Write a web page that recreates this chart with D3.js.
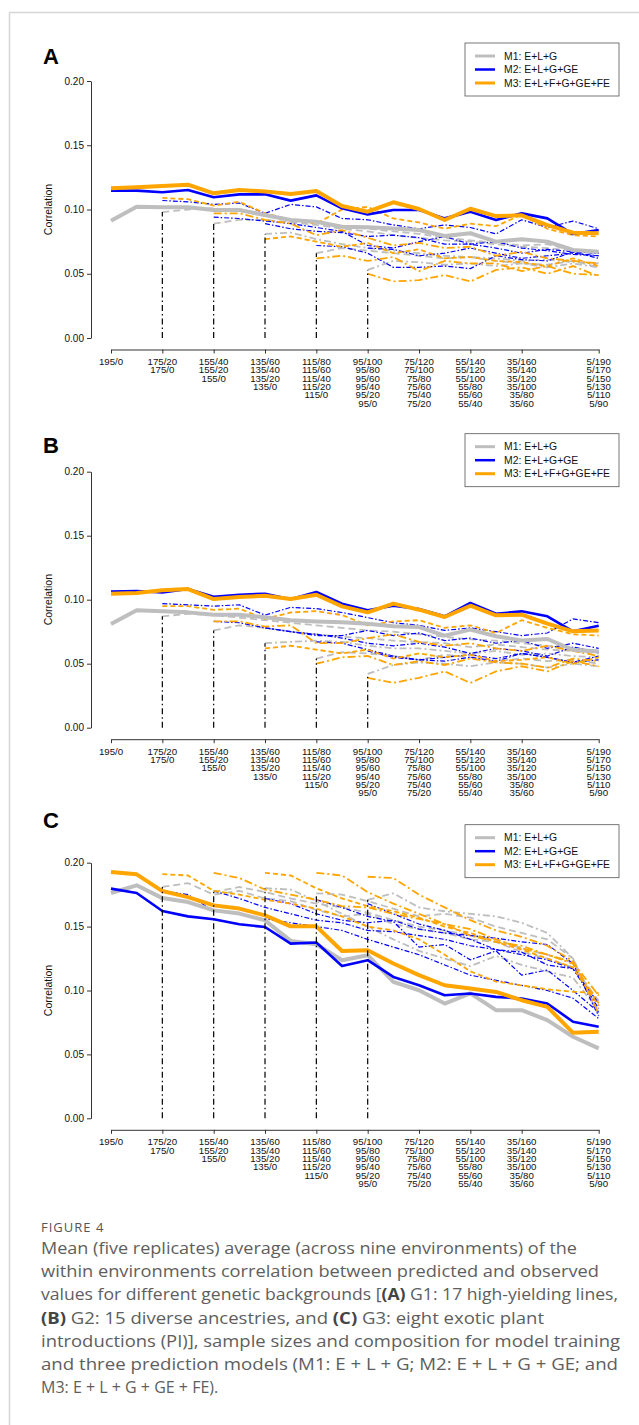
<!DOCTYPE html>
<html>
<head>
<meta charset="utf-8">
<script src="https://cdn.jsdelivr.net/npm/d3@7"></script>
<style>
  body { margin: 0; background: #fff; }
  svg text { font-family: "Liberation Sans", Arial, sans-serif; }
</style>
</head>
<body>
<svg id="fig" width="639" height="1425"></svg>
<script>
// training set sizes (target lines) along the x axis
const trainSizes = [195, 185, 175, 165, 155, 145, 135, 125, 115, 105, 95, 85, 75, 65, 55, 45, 35, 25, 15, 5];
const xTicks = [195, 175, 155, 135, 115, 95, 75, 55, 35, 5];
const totals = [195, 175, 155, 135, 115, 95];
const thinStarts = [175, 155, 135, 115, 95];
const yTicks = [0, 0.05, 0.1, 0.15, 0.2];
const modelNames = ["M1: E+L+G", "M2: E+L+G+GE", "M3: E+L+F+G+GE+FE"];
const panelNames = ["A", "B", "C"];

// panel A (G1)
const aM1 = [0.0913, 0.1022, 0.1017, 0.1017, 0.0996, 0.0996, 0.0957, 0.0918, 0.0905, 0.0866, 0.0861, 0.0853, 0.0840, 0.0794, 0.0815, 0.0750, 0.0768, 0.0750, 0.0685, 0.0672];
const aM2 = [0.1147, 0.1147, 0.1134, 0.1152, 0.1095, 0.1118, 0.1118, 0.1069, 0.1110, 0.1009, 0.0962, 0.0996, 0.0996, 0.0931, 0.0983, 0.0918, 0.0970, 0.0931, 0.0809, 0.0840];
const aM3 = [0.1165, 0.1173, 0.1183, 0.1193, 0.1126, 0.1152, 0.1141, 0.1120, 0.1144, 0.1027, 0.0983, 0.1056, 0.1004, 0.0918, 0.1006, 0.0949, 0.0955, 0.0879, 0.0820, 0.0815];
const aThinM1 = [
  [0.098, 0.100, 0.101, 0.099, 0.095, 0.092, 0.090, 0.087, 0.085, 0.083, 0.081, 0.078, 0.076, 0.074, 0.072, 0.073, 0.068, 0.066],
  [0.089, 0.092, 0.092, 0.090, 0.088, 0.085, 0.083, 0.080, 0.078, 0.076, 0.075, 0.073, 0.071, 0.070, 0.068, 0.066],
  [0.081, 0.082, 0.077, 0.073, 0.070, 0.068, 0.066, 0.064, 0.063, 0.062, 0.060, 0.061, 0.059, 0.058],
  [0.066, 0.070, 0.068, 0.066, 0.064, 0.062, 0.063, 0.060, 0.058, 0.057, 0.060, 0.055],
  [0.053, 0.060, 0.059, 0.057, 0.058, 0.056, 0.058, 0.055, 0.058, 0.055]
];
const aThinM2 = [
  [0.107, 0.106, 0.104, 0.105, 0.097, 0.104, 0.102, 0.093, 0.092, 0.088, 0.085, 0.088, 0.086, 0.081, 0.092, 0.086, 0.091, 0.085],
  [0.094, 0.093, 0.091, 0.089, 0.086, 0.083, 0.072, 0.070, 0.075, 0.079, 0.073, 0.075, 0.070, 0.068, 0.065, 0.064],
  [0.089, 0.085, 0.083, 0.082, 0.079, 0.080, 0.078, 0.073, 0.073, 0.070, 0.066, 0.069, 0.067, 0.066],
  [0.072, 0.071, 0.066, 0.055, 0.055, 0.056, 0.054, 0.064, 0.061, 0.060, 0.067, 0.062],
  [0.070, 0.069, 0.064, 0.066, 0.070, 0.066, 0.062, 0.064, 0.066, 0.064]
];
const aThinM3 = [
  [0.109, 0.108, 0.103, 0.106, 0.097, 0.092, 0.089, 0.100, 0.102, 0.093, 0.090, 0.085, 0.089, 0.087, 0.096, 0.085, 0.080, 0.079],
  [0.097, 0.097, 0.092, 0.089, 0.080, 0.084, 0.078, 0.072, 0.074, 0.070, 0.071, 0.064, 0.067, 0.062, 0.060, 0.058],
  [0.077, 0.079, 0.075, 0.071, 0.074, 0.066, 0.069, 0.062, 0.063, 0.060, 0.059, 0.056, 0.062, 0.056],
  [0.062, 0.064, 0.060, 0.063, 0.052, 0.060, 0.058, 0.058, 0.052, 0.056, 0.050, 0.049],
  [0.050, 0.044, 0.045, 0.049, 0.044, 0.053, 0.055, 0.050, 0.056, 0.048]
];

// panel B (G2)
const bM1 = [0.0810, 0.0917, 0.0909, 0.0901, 0.0883, 0.0883, 0.0862, 0.0839, 0.0830, 0.0823, 0.0813, 0.0792, 0.0786, 0.0719, 0.0766, 0.0714, 0.0682, 0.0693, 0.0609, 0.0596];
const bM2 = [0.1063, 0.1068, 0.1057, 0.1083, 0.1023, 0.1039, 0.1047, 0.1003, 0.1060, 0.0969, 0.0917, 0.0953, 0.0927, 0.0870, 0.0974, 0.0890, 0.0909, 0.0870, 0.0753, 0.0797];
const bM3 = [0.1047, 0.1052, 0.1073, 0.1083, 0.1005, 0.1021, 0.1031, 0.1005, 0.1039, 0.0948, 0.0901, 0.0969, 0.0922, 0.0865, 0.0953, 0.0878, 0.0883, 0.0813, 0.0753, 0.0760];
const bThinM1 = [
  [0.087, 0.089, 0.088, 0.086, 0.084, 0.082, 0.080, 0.078, 0.076, 0.075, 0.073, 0.071, 0.069, 0.068, 0.066, 0.064, 0.062, 0.060],
  [0.076, 0.080, 0.078, 0.075, 0.073, 0.071, 0.070, 0.068, 0.067, 0.066, 0.063, 0.065, 0.063, 0.061, 0.060, 0.058],
  [0.066, 0.067, 0.068, 0.067, 0.064, 0.062, 0.062, 0.060, 0.058, 0.060, 0.057, 0.058, 0.056, 0.055],
  [0.054, 0.059, 0.058, 0.056, 0.053, 0.057, 0.055, 0.052, 0.054, 0.052, 0.053, 0.050],
  [0.042, 0.049, 0.051, 0.050, 0.048, 0.051, 0.050, 0.047, 0.050, 0.048]
];
const bThinM2 = [
  [0.097, 0.096, 0.095, 0.096, 0.088, 0.094, 0.093, 0.090, 0.086, 0.082, 0.080, 0.076, 0.078, 0.075, 0.072, 0.074, 0.085, 0.082],
  [0.083, 0.082, 0.078, 0.075, 0.072, 0.072, 0.076, 0.072, 0.074, 0.068, 0.070, 0.066, 0.068, 0.062, 0.066, 0.062],
  [0.078, 0.075, 0.073, 0.070, 0.066, 0.064, 0.066, 0.063, 0.058, 0.062, 0.060, 0.056, 0.063, 0.059],
  [0.067, 0.066, 0.061, 0.056, 0.053, 0.055, 0.057, 0.054, 0.058, 0.055, 0.051, 0.056],
  [0.060, 0.055, 0.053, 0.052, 0.055, 0.052, 0.058, 0.055, 0.051, 0.053]
];
const bThinM3 = [
  [0.095, 0.095, 0.092, 0.093, 0.085, 0.090, 0.091, 0.088, 0.080, 0.083, 0.084, 0.078, 0.080, 0.074, 0.084, 0.078, 0.073, 0.072],
  [0.083, 0.083, 0.079, 0.080, 0.066, 0.066, 0.070, 0.073, 0.067, 0.064, 0.066, 0.062, 0.060, 0.064, 0.060, 0.056],
  [0.062, 0.064, 0.061, 0.058, 0.061, 0.054, 0.058, 0.055, 0.057, 0.052, 0.053, 0.055, 0.050, 0.055],
  [0.050, 0.055, 0.056, 0.049, 0.052, 0.049, 0.054, 0.051, 0.050, 0.047, 0.054, 0.052],
  [0.039, 0.035, 0.039, 0.044, 0.035, 0.044, 0.048, 0.044, 0.052, 0.048]
];

// panel C (G3)
const cM1 = [0.1763, 0.1823, 0.1723, 0.1692, 0.1627, 0.1602, 0.1549, 0.1388, 0.1362, 0.1237, 0.1276, 0.1067, 0.1002, 0.0898, 0.0977, 0.0846, 0.0846, 0.0768, 0.0638, 0.0547];
const cM2 = [0.1797, 0.1763, 0.1622, 0.1580, 0.1557, 0.1518, 0.1497, 0.1367, 0.1375, 0.1192, 0.1237, 0.1106, 0.1041, 0.0963, 0.0977, 0.0950, 0.0938, 0.0898, 0.0755, 0.0716];
const cM3 = [0.1927, 0.1909, 0.1778, 0.1731, 0.1666, 0.1641, 0.1588, 0.1502, 0.1502, 0.1309, 0.1315, 0.1211, 0.1120, 0.1041, 0.1016, 0.0989, 0.0924, 0.0872, 0.0669, 0.0677];
const cThinM1 = [
  [0.181, 0.184, 0.175, 0.178, 0.172, 0.170, 0.163, 0.158, 0.160, 0.152, 0.148, 0.145, 0.140, 0.138, 0.130, 0.125, 0.118, 0.092],
  [0.177, 0.181, 0.177, 0.172, 0.168, 0.165, 0.161, 0.155, 0.150, 0.147, 0.143, 0.140, 0.133, 0.128, 0.122, 0.088],
  [0.180, 0.179, 0.170, 0.160, 0.150, 0.140, 0.131, 0.125, 0.119, 0.127, 0.120, 0.115, 0.110, 0.084],
  [0.176, 0.175, 0.170, 0.164, 0.158, 0.160, 0.157, 0.150, 0.145, 0.140, 0.125, 0.082],
  [0.171, 0.176, 0.165, 0.162, 0.160, 0.158, 0.153, 0.145, 0.125, 0.080]
];
const cThinM2 = [
  [0.178, 0.175, 0.162, 0.160, 0.156, 0.153, 0.150, 0.147, 0.140, 0.134, 0.128, 0.120, 0.112, 0.108, 0.104, 0.100, 0.094, 0.078],
  [0.178, 0.172, 0.165, 0.160, 0.155, 0.153, 0.147, 0.146, 0.143, 0.140, 0.135, 0.132, 0.130, 0.120, 0.117, 0.086],
  [0.172, 0.168, 0.160, 0.155, 0.153, 0.155, 0.148, 0.145, 0.143, 0.141, 0.138, 0.136, 0.121, 0.080],
  [0.171, 0.165, 0.158, 0.154, 0.134, 0.136, 0.124, 0.131, 0.112, 0.116, 0.100, 0.083],
  [0.168, 0.160, 0.152, 0.147, 0.140, 0.132, 0.128, 0.124, 0.117, 0.090]
];
const cThinM3 = [
  [0.191, 0.190, 0.178, 0.175, 0.171, 0.168, 0.164, 0.158, 0.150, 0.147, 0.140, 0.128, 0.115, 0.107, 0.104, 0.101, 0.099, 0.098],
  [0.192, 0.188, 0.179, 0.175, 0.171, 0.166, 0.165, 0.160, 0.156, 0.152, 0.148, 0.140, 0.133, 0.128, 0.121, 0.090],
  [0.192, 0.190, 0.180, 0.172, 0.166, 0.162, 0.157, 0.150, 0.145, 0.138, 0.132, 0.125, 0.118, 0.088],
  [0.192, 0.190, 0.177, 0.168, 0.160, 0.152, 0.143, 0.138, 0.135, 0.128, 0.122, 0.096],
  [0.189, 0.188, 0.175, 0.165, 0.155, 0.147, 0.142, 0.135, 0.123, 0.082]
];

const caption = [
  [["Mean (five replicates) average (across nine environments) of the", 0]],
  [["within environments correlation between predicted and observed", 0]],
  [["values for different genetic backgrounds [", 0], ["(A)", 1], [" G1: 17 high-yielding lines,", 0]],
  [["(B)", 1], [" G2: 15 diverse ancestries, and ", 0], ["(C)", 1], [" G3: eight exotic plant", 0]],
  [["introductions (PI)], sample sizes and composition for model training", 0]],
  [["and three prediction models (M1: E + L + G; M2: E + L + G + GE; and", 0]],
  [["M3: E + L + G + GE + FE).", 0]]
];

// ---- styles / layout ----
const colors = ["#BEBEBE", "#0000FF", "#FFA500"];
const thickWidth = [4, 2.6, 4];
const thinWidth = [1.8, 1.2, 1.8];
const thinDash = [
  ["7,4", "7,4", "7,3,2,3", "7,4", "7,3,2,3"],
  ["5,2,1.5,2", "5,2,1.5,2", "5,2,1.5,2", "5,2,1.5,2", "5,2,1.5,2"],
  ["5,3", "8,3,2,3", "5,3", "8,3,2,3", "8,3,2,3"]
];
const panelY20 = [81, 471.7, 862.7];
const panelY0 = [338, 727.7, 1118.3];
const letterY = [64, 453, 828];

const panels = [
  { main: [aM1, aM2, aM3], thin: [aThinM1, aThinM2, aThinM3] },
  { main: [bM1, bM2, bM3], thin: [bThinM1, bThinM2, bThinM3] },
  { main: [cM1, cM2, cM3], thin: [cThinM1, cThinM2, cThinM3] }
];

const svg = d3.select("#fig");

// faint figure frame
svg.append("path")
  .attr("d", "M9.5,1425 L9.5,12.5 L639,12.5")
  .attr("fill", "none")
  .attr("stroke", "#d6d6d6")
  .attr("stroke-width", 1.5);

const x = d3.scaleLinear().domain([195, 5]).range([111, 598.7]);

panels.forEach((p, pi) => {
  const y = d3.scaleLinear().domain([0, 0.2]).range([panelY0[pi], panelY20[pi]]);
  const g = svg.append("g");
  const line = d3.line().x((d) => x(d.n)).y((d) => y(d.v));

  // panel letter
  g.append("text")
    .attr("x", 43)
    .attr("y", letterY[pi])
    .attr("font-size", 22)
    .attr("font-weight", "bold")
    .text(panelNames[pi]);

  // y axis
  const yAxis = g.append("g")
    .attr("transform", "translate(91,0)")
    .call(d3.axisLeft(y).tickValues(yTicks).tickFormat(d3.format(".2f")).tickSize(4).tickSizeOuter(0).tickPadding(3));
  yAxis.selectAll("path, line").attr("stroke", "#333");
  yAxis.selectAll("text")
    .attr("font-size", 10)
    .attr("fill", "#111")
    .style("font-family", "'Liberation Sans', Arial, sans-serif");

  g.append("text")
    .attr("transform", `translate(51.5,${(panelY0[pi] + panelY20[pi]) / 2}) rotate(-90)`)
    .attr("text-anchor", "middle")
    .attr("font-size", 10.5)
    .attr("fill", "#111")
    .text("Correlation");

  // x axis with stacked composition labels
  const axisY = panelY0[pi] + 11.5;
  const xAxis = g.append("g")
    .attr("transform", `translate(0,${axisY})`)
    .call(d3.axisBottom(x).tickValues(xTicks).tickFormat("").tickSize(4).tickSizeOuter(0));
  xAxis.selectAll("path, line").attr("stroke", "#333");
  xTicks.forEach((v) => {
    const labels = totals.filter((t) => t >= v).map((t) => `${v}/${t - v}`);
    const t = g.append("text")
      .attr("text-anchor", "middle")
      .attr("font-size", 9.7)
      .attr("fill", "#111");
    labels.forEach((s, i) => {
      t.append("tspan")
        .attr("x", x(v))
        .attr("y", axisY + 15.5 + i * 8.35)
        .text(s);
    });
  });

  // thin series: smaller total training sizes
  p.thin.forEach((series, m) => {
    series.forEach((vals, k) => {
      const pts = vals.map((v, i) => ({ n: thinStarts[k] - 10 * i, v }));
      g.append("path")
        .datum(pts)
        .attr("d", line)
        .attr("fill", "none")
        .attr("stroke", colors[m])
        .attr("stroke-width", thinWidth[m])
        .attr("stroke-dasharray", thinDash[m][k]);
    });
  });

  // thick series: full training set (195)
  p.main.forEach((vals, m) => {
    const pts = vals.map((v, i) => ({ n: trainSizes[i], v }));
    g.append("path")
      .datum(pts)
      .attr("d", line)
      .attr("fill", "none")
      .attr("stroke", colors[m])
      .attr("stroke-width", thickWidth[m])
      .attr("stroke-linejoin", "round");
  });

  // vertical markers from 0 up to M1 start of each subset
  thinStarts.forEach((s, k) => {
    g.append("line")
      .attr("x1", x(s))
      .attr("x2", x(s))
      .attr("y1", y(0))
      .attr("y2", y(p.thin[0][k][0]))
      .attr("stroke", "#000")
      .attr("stroke-width", 1.2)
      .attr("stroke-dasharray", "6,3,1.5,3");
  });

  // legend
  const lt = panelY20[pi] - 38;
  const leg = g.append("g").attr("transform", `translate(465,${lt})`);
  leg.append("rect")
    .attr("width", 154)
    .attr("height", 53)
    .attr("fill", "#fff")
    .attr("stroke", "#555")
    .attr("stroke-width", 0.8);
  modelNames.forEach((name, m) => {
    const ry = 13 + m * 13.5;
    leg.append("line")
      .attr("x1", 10).attr("x2", 30)
      .attr("y1", ry).attr("y2", ry)
      .attr("stroke", colors[m])
      .attr("stroke-width", m === 1 ? 2.5 : 3);
    leg.append("text")
      .attr("x", 39)
      .attr("y", ry + 3.6)
      .attr("font-size", 10.4)
      .attr("fill", "#111")
      .text(name);
  });
});

// caption
svg.append("text")
  .attr("x", 41)
  .attr("y", 1232)
  .attr("font-size", 13)
  .attr("letter-spacing", 1)
  .attr("fill", "#555")
  .style("font-family", "'Open Sans', sans-serif")
  .text("FIGURE 4");

const capWidths = [536, 558, 577, 503, 579, 577, 224];
caption.forEach((parts, i) => {
  const t = svg.append("text")
    .attr("x", 41)
    .attr("y", 1254 + i * 23.2)
    .attr("font-size", 16)
    .attr("fill", "#5e5e5e")
    .style("font-family", "'Open Sans', sans-serif");
  parts.forEach(([s, b]) => {
    t.append("tspan")
      .attr("font-weight", b ? "bold" : null)
      .attr("fill", b ? "#444" : null)
      .text(s);
  });
  if (i < caption.length - 1) {
    t.attr("textLength", capWidths[i]).attr("lengthAdjust", "spacingAndGlyphs");
  }
});
</script>
</body>
</html>
